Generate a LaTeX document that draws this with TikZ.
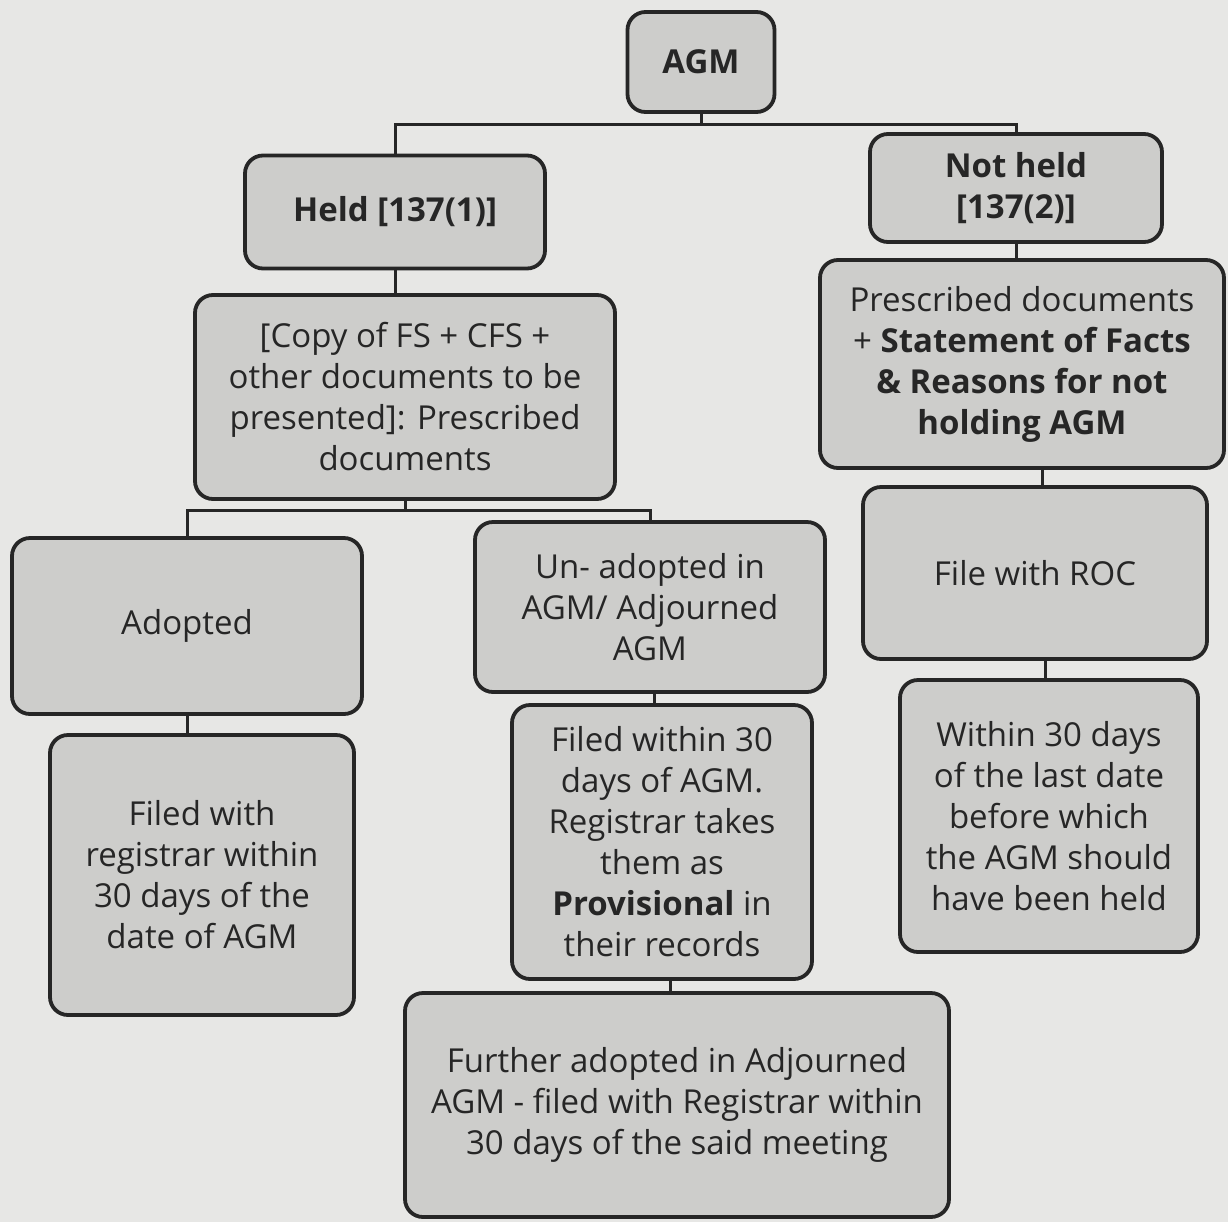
\documentclass[tikz,border=0pt]{standalone}
\usepackage{fontspec}
\setmainfont{Open Sans}
\begin{document}
\begin{tikzpicture}[x=0.5pt,y=-0.5pt,
  box/.style={draw=black!85, line width=1.9pt, rounded corners=9pt, fill=boxgray,
    align=center, inner sep=2pt, font=\fontsize{16.5}{20.5}\selectfont, text=black!85},
  link/.style={draw=black!85, line width=1.5pt}]
\definecolor{pagegray}{HTML}{E7E7E5}
\definecolor{boxgray}{HTML}{CDCDCB}
\fill[pagegray] (0,0) rectangle (1228,1222);
\useasboundingbox (0,0) rectangle (1228,1222);

\node[box, minimum width=73.5pt, minimum height=50pt] (agm) at (701,62) {\bfseries AGM};
\node[box, minimum width=150pt, minimum height=56.5pt] (held) at (395,212) {\bfseries Held [137(1)]};
\node[box, minimum width=146pt, minimum height=54pt] (nothold) at (1016,188) {\bfseries Not held\\ \bfseries [137(2)]};
\node[box, minimum width=210pt, minimum height=102pt] (copy) at (405,397) {[Copy of FS + CFS +\\ other documents to be\\ presented]: Prescribed\\ documents};
\node[box, minimum width=202pt, minimum height=104pt] (presc) at (1022,364) {Prescribed documents\\ + \textbf{Statement of Facts}\\ \textbf{\& Reasons for not}\\ \textbf{holding AGM}};
\node[box, minimum width=175pt, minimum height=88pt] (adopted) at (187,626) {Adopted};
\node[box, minimum width=175pt, minimum height=85pt] (unadopted) at (650,607) {Un- adopted in\\ AGM/ Adjourned\\ AGM};
\node[box, minimum width=172pt, minimum height=86pt] (roc) at (1035,573) {File with ROC};
\node[box, minimum width=152pt, minimum height=140pt] (filedreg) at (202,875) {Filed with\\ registrar within\\ 30 days of the\\ date of AGM};
\node[box, minimum width=150pt, minimum height=137pt] (filedwithin) at (662,842) {Filed within 30\\ days of AGM.\\ Registrar takes\\ them as\\ \textbf{Provisional} in\\ their records};
\node[box, minimum width=149pt, minimum height=136pt] (within) at (1049,816) {Within 30 days\\ of the last date\\ before which\\ the AGM should\\ have been held};
\node[box, minimum width=272pt, minimum height=112pt] (further) at (677,1105) {Further adopted in Adjourned\\ AGM - filed with Registrar within\\ 30 days of the said meeting};

\coordinate (j1) at (701,124);
\coordinate (j2) at (405,510);
\draw[link] (agm.south) -- (j1);
\draw[link] (held.north) |- (j1) -| (nothold.north);
\draw[link] (held.south) -- (held.south |- copy.north);
\draw[link] (copy.south) -- (j2);
\draw[link] (adopted.north) |- (j2) -| (unadopted.north);
\draw[link] (nothold.south) -- (nothold.south |- presc.north);
\draw[link] ([xshift=10pt]presc.south) -- ([xshift=10pt]presc.south |- roc.north);
\draw[link] ([xshift=5pt]roc.south) -- ([xshift=5pt]roc.south |- within.north);
\draw[link] (adopted.south) -- (adopted.south |- filedreg.north);
\draw[link] ([xshift=2pt]unadopted.south) -- ([xshift=2pt]unadopted.south |- filedwithin.north);
\draw[link] ([xshift=4pt]filedwithin.south) -- ([xshift=4pt]filedwithin.south |- further.north);
\end{tikzpicture}
\end{document}
